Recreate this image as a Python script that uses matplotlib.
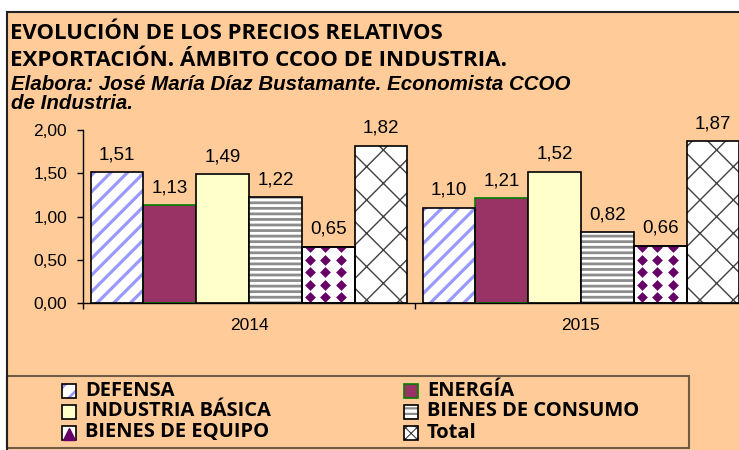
import numpy as np
import matplotlib
matplotlib.use("Agg")
import matplotlib.pyplot as plt
from matplotlib.patches import Rectangle
from matplotlib.lines import Line2D

# data
years = ["2014", "2015"]
series = ["DEFENSA", "ENERGÍA", "INDUSTRIA BÁSICA",
          "BIENES DE CONSUMO", "BIENES DE EQUIPO", "Total"]
values_2014 = [1.51, 1.13, 1.49, 1.22, 0.65, 1.82]
values_2015 = [1.10, 1.21, 1.52, 0.82, 0.66, 1.87]
yticks = [0.0, 0.5, 1.0, 1.5, 2.0]

title1 = "EVOLUCIÓN DE LOS PRECIOS RELATIVOS"
title2 = "EXPORTACIÓN. ÁMBITO CCOO DE INDUSTRIA."
credit1 = "Elabora: José María Díaz Bustamante. Economista CCOO"
credit2 = "de Industria."

# styles: face, edge, hatch, hatch colour, hatch linewidth
styles = [
    dict(face="white", edge="black", hatch="//", hc="#9999FF", hlw=2.3),
    dict(face="#993366", edge="#008000", hatch=None, hc=None, hlw=0),
    dict(face="#FFFFCC", edge="black", hatch=None, hc=None, hlw=0),
    dict(face="white", edge="black", hatch="---", hc="#8c8c8c", hlw=2.0),
    dict(face="white", edge="black", hatch=None, hc=None, hlw=0),   # diamonds
    dict(face="white", edge="black", hatch="x", hc="#404040", hlw=1.0),
]
DIAMOND = "#660066"
PEACH = "#FFCC99"

W, H = 739, 450
fig = plt.figure(figsize=(W / 100, H / 100), dpi=100, facecolor="white")

def fx(x):
    return x / W

def fy(y):
    return 1 - y / H

# chart area background and frame
fig.add_artist(Rectangle((fx(7), 0), 1, fy(12), transform=fig.transFigure,
                         facecolor=PEACH, edgecolor="none", zorder=0))
fig.add_artist(Line2D([fx(7), fx(7)], [0, fy(12)], transform=fig.transFigure,
                      color="#222222", lw=1.5))
fig.add_artist(Line2D([fx(7), 1], [fy(12), fy(12)], transform=fig.transFigure,
                      color="#222222", lw=1.5))

# titles
fig.text(fx(10), fy(33.5), title1, fontsize=15.9, fontweight="bold",
         family="Open Sans", va="center", ha="left")
fig.text(fx(10), fy(61), title2, fontsize=16.1, fontweight="bold",
         family="Open Sans", va="center", ha="left")
fig.text(fx(11), fy(85), credit1, fontsize=14.8, fontweight="bold",
         fontstyle="italic", family="Liberation Sans", va="center", ha="left")
fig.text(fx(11), fy(104), credit2, fontsize=14.8, fontweight="bold",
         fontstyle="italic", family="Liberation Sans", va="center", ha="left")

# plot area
x0, x1, y_top, y_bot = 83, 747, 130, 303
ax = fig.add_axes([fx(x0), fy(y_bot), (x1 - x0) / W, (y_bot - y_top) / H])
ax.set_facecolor("none")
ax.set_xlim(-0.5, 1.5)
ax.set_ylim(0, 2)

x = np.arange(len(years))
n = len(series)
bw = 0.159
vals = np.array([values_2014, values_2015])

for i, (name, st) in enumerate(zip(series, styles)):
    pos = x + (i - (n - 1) / 2) * bw
    h = vals[:, i]
    if st["hatch"]:
        under = ax.bar(pos, h, bw, color=st["face"], edgecolor=st["hc"],
                       hatch=st["hatch"], linewidth=0, zorder=2)
        for p in under:
            p.set_hatch_linewidth(st["hlw"])
        ax.bar(pos, h, bw, fill=False, edgecolor=st["edge"], linewidth=1.2,
               zorder=3)
    else:
        bars = ax.bar(pos, h, bw, color=st["face"], edgecolor=st["edge"],
                      linewidth=1.2, zorder=2)
        if i == 4:
            # purple diamond checker
            dx = 15.6 / 332
            dy = 12.6 / 86.5
            for p in bars:
                bx, bwid, bh = p.get_x(), p.get_width(), p.get_height()
                gx = np.arange(bx + dx * 0.5, bx + bwid, dx)
                gy = np.arange(dy * 0.45, bh + dy, dy)
                X, Y = np.meshgrid(gx, gy)
                sc = ax.scatter(X.ravel(), Y.ravel(), marker="D", s=30,
                                color=DIAMOND, linewidths=0, zorder=2.5)
                sc.set_clip_path(p)
            ax.bar(pos, h, bw, fill=False, edgecolor=st["edge"],
                   linewidth=1.2, zorder=3)
    for xp, v in zip(pos, h):
        ax.annotate(f"{v:.2f}".replace(".", ","), (xp, v), xytext=(0, 9.4),
                    textcoords="offset points", ha="center", va="baseline",
                    fontsize=13.5, family="Liberation Sans")

# axes styling
for s in ["top", "right"]:
    ax.spines[s].set_visible(False)
ax.spines["left"].set_linewidth(1)
ax.spines["bottom"].set_linewidth(1)
ax.set_yticks(yticks)
ax.set_yticklabels([f"{v:.2f}".replace(".", ",") for v in yticks],
                   fontsize=12.5, family="Liberation Sans")
ax.tick_params(axis="y", direction="out", length=4.5, width=1, pad=7)
ax.set_xticks(x)
ax.set_xticklabels(years, fontsize=12.5, family="Liberation Sans")
ax.set_xticks([-0.5, 0.5, 1.5], minor=True)
ax.tick_params(axis="x", which="major", length=0, pad=11)
ax.tick_params(axis="x", which="minor", direction="out", length=4, width=1)

# legend (drawn by hand to keep the layout of the original)
fig.add_artist(Rectangle((fx(7), fy(448)), (689 - 7) / W, (448 - 376) / H,
                         transform=fig.transFigure, facecolor=PEACH,
                         edgecolor="#6e5a46", lw=1.5, zorder=1))
col_x = [62, 404]
row_y = [390.5, 411.5, 432.5]
order = [0, 2, 4, 1, 3, 5]
sq = 14
for k, i in enumerate(order):
    mx = col_x[k // 3]
    my = row_y[k % 3]
    st = styles[i]
    if st["hatch"]:
        hatch = "xxx" if st["hatch"] == "x" else st["hatch"]
        r = Rectangle((fx(mx), fy(my + sq / 2)), sq / W, sq / H,
                      transform=fig.transFigure, facecolor=st["face"],
                      edgecolor=st["hc"], hatch=hatch, lw=0, zorder=2)
        r.set_hatch_linewidth(st["hlw"] * 0.8)
        fig.add_artist(r)
        fig.add_artist(Rectangle((fx(mx), fy(my + sq / 2)), sq / W, sq / H,
                                 transform=fig.transFigure, fill=False,
                                 edgecolor=st["edge"], lw=1.2, zorder=3))
    else:
        fig.add_artist(Rectangle((fx(mx), fy(my + sq / 2)), sq / W, sq / H,
                                 transform=fig.transFigure,
                                 facecolor=st["face"], edgecolor=st["edge"],
                                 lw=1.2, zorder=2))
        if i == 4:
            fig.add_artist(Line2D([fx(mx + sq / 2)], [fy(my + 1)],
                                  transform=fig.transFigure, marker="^",
                                  markersize=8, color=DIAMOND, lw=0, zorder=3))
    fig.text(fx(mx + 23), fy(my), series[i], fontsize=14.5, fontweight="bold",
             family="Open Sans", va="center", ha="left")

fig.savefig("out.png", dpi=100)
